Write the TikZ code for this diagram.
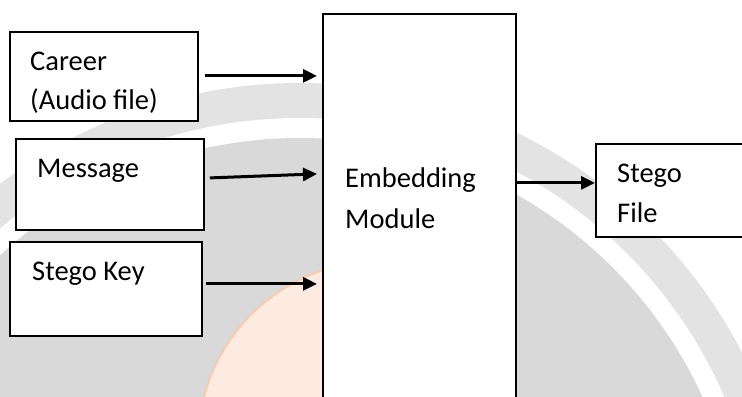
\documentclass[tikz,border=0pt]{standalone}
\usepackage{fontspec}
\setmainfont{Carlito}
\usetikzlibrary{arrows.meta,calc}
\definecolor{wmdark}{HTML}{D9D9D9}
\definecolor{wmlight}{HTML}{E3E3E3}
\definecolor{globefill}{HTML}{FDEBE2}
\definecolor{globeedge}{HTML}{FAC9B0}
\tikzset{
 box/.style={draw=black, line width=1.8bp, fill=white, rectangle, inner sep=0pt, anchor=north west},
 lbl/.style={anchor=base west, inner sep=0pt, font=\fontsize{28.5bp}{34bp}\selectfont},
 arr/.style={line width=3bp, -{Triangle[length=14bp,width=13bp]}},
}
\begin{document}
\begin{tikzpicture}[x=1bp,y=-1bp]
\useasboundingbox (0,0) rectangle (742,396);
\begin{scope}
\clip (0,0) rectangle (742,396);
% watermark
\fill[wmlight] (300,580) circle[radius=497];
\fill[white] (300,580) circle[radius=462];
\fill[wmdark] (300,580) circle[radius=442];
\begin{scope}
\clip (0,0) rectangle (322,396);
\fill[globefill] (380,443) circle[radius=182];
\draw[globeedge, line width=2bp] (380,443) circle[radius=182];
\end{scope}
% boxes
\node[box, minimum width=188bp, minimum height=89bp] (career) at (9,31) {};
\node[box, minimum width=188bp, minimum height=91bp] (msg) at (15,138) {};
\node[box, minimum width=192bp, minimum height=94bp] (key) at (9,241) {};
\node[box, minimum width=193bp, minimum height=430bp] (embed) at (322,13) {};
\node[box, minimum width=180bp, minimum height=93bp] (stego) at (595,143) {};
% labels
\node[lbl] (t1) at (30,70) {Career};
\begin{scope}
\clip (0,0) rectangle (742,113);
\node[lbl] (t2) at (30,109) {(Audio file)};
\end{scope}
\node[lbl] (t3) at (37,177) {Message};
\node[lbl] (t4) at (32,280) {Stego Key};
\node[lbl] (t5) at (345,187) {Embedding};
\node[lbl] (t6) at (345,228) {Module};
\node[lbl] (t7) at (617,182) {Stego};
\node[lbl] (t8) at (617,222) {File};
% connector end points
\coordinate (a1) at ($(career.east)+(6,-0.5)$);
\coordinate (b1) at ($(career.east -| embed.west)+(-5,-0.5)$);
\coordinate (a2) at ($(msg.east)+(5,-6.5)$);
\coordinate (b2) at ($(msg.east -| embed.west)+(-5,-10.5)$);
\coordinate (a3) at ($(key.east)+(3,-5)$);
\coordinate (b3) at ($(key.east -| embed.west)+(-5,-5)$);
\coordinate (a4) at ($(stego.west -| embed.east)+(0,-7.5)$);
\coordinate (b4) at ($(stego.west)+(0,-7.5)$);
\draw[arr] (a1) -- (b1);
\draw[arr] (a2) -- (b2);
\draw[arr] (a3) -- (b3);
\draw[arr] (a4) -- (b4);
\end{scope}
\end{tikzpicture}
\end{document}
